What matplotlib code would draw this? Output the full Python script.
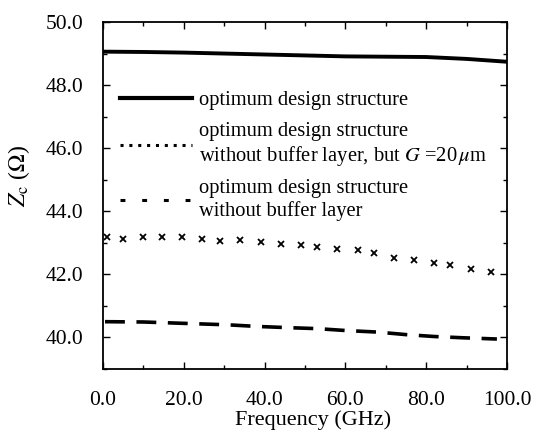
import matplotlib
matplotlib.use("Agg")
import matplotlib.pyplot as plt
from matplotlib.lines import Line2D
from matplotlib.ticker import MultipleLocator, FormatStrFormatter

plt.rcParams['font.family'] = ['Liberation Serif', 'DejaVu Serif']
plt.rcParams['mathtext.fontset'] = 'stix'

# optimum design structure
f_opt = [0, 10, 20, 30, 40, 50, 60, 70, 80, 90, 100]
z_opt = [49.06, 49.05, 49.03, 49.00, 48.97, 48.94, 48.91, 48.90, 48.89, 48.83, 48.74]

# without buffer layer, but G = 20 um
f_g20 = [1, 5, 10, 14.5, 19.5, 24.5, 29, 34, 39, 44, 49, 53, 58, 63, 67, 72, 77, 82, 86, 91, 96]
z_g20 = [43.18, 43.13, 43.18, 43.18, 43.18, 43.13, 43.06, 43.08, 43.03, 42.97, 42.92,
         42.87, 42.81, 42.78, 42.69, 42.53, 42.47, 42.36, 42.29, 42.18, 42.07]

# without buffer layer
f_nobuf = [0.5, 10, 17, 24, 31, 38, 46, 53, 60, 68, 75, 82, 89, 97.5]
z_nobuf = [40.50, 40.49, 40.46, 40.43, 40.40, 40.35, 40.31, 40.28, 40.22, 40.17,
           40.09, 40.03, 39.99, 39.95]

labels = ["optimum design structure",
          "optimum design structure\nwithout buffer layer, but $G$ =20$\\,\\mu$m",
          "optimum design structure\nwithout buffer layer"]

fig = plt.figure(figsize=(5.41, 4.38), dpi=100)
ax = fig.add_axes([103/541, 1 - 369/438, 404/541, 347/438])

ax.plot(f_opt, z_opt, color='black', lw=2.8)
ax.plot(f_g20, z_g20, ls='none', marker='x', ms=4.5, mew=1.3, color='black')
ax.plot(f_nobuf, z_nobuf, color='black', lw=2.6, ls=(0, (5.5, 3.2)))

handles = [Line2D([], [], color='black', lw=3),
           Line2D([], [], color='black', lw=2.2, ls=(0, (1.0, 1.9))),
           Line2D([], [], color='black', lw=2.2, ls=(0, (1.6, 5.5)))]
ax.legend(handles, labels, loc='upper left', bbox_to_anchor=(0.022, 0.825),
          frameon=False, fontsize=14.8, handlelength=3.5, handletextpad=0.35,
          labelspacing=0.55, borderaxespad=0)

ax.set_xlim(0, 100)
ax.set_ylim(39, 50)
ax.xaxis.set_major_locator(MultipleLocator(20))
ax.xaxis.set_minor_locator(MultipleLocator(10))
ax.yaxis.set_major_locator(MultipleLocator(2))
ax.yaxis.set_minor_locator(MultipleLocator(1))
ax.xaxis.set_major_formatter(FormatStrFormatter('%.1f'))
ax.yaxis.set_major_formatter(FormatStrFormatter('%.1f'))
ax.tick_params(which='both', direction='in', top=True, right=True, labelsize=15.5)
ax.tick_params(which='major', length=5, width=1)
ax.tick_params(which='minor', length=3, width=1)
ax.tick_params(axis='x', pad=16)
ax.tick_params(axis='y', pad=14)
for s in ax.spines.values():
    s.set_linewidth(1.3)

ax.set_xlabel("Frequency (GHz)", fontsize=16)
ax.set_ylabel("$Z_{\\mathrm{c}}$ ($\\Omega$)", fontsize=17)
ax.xaxis.set_label_coords(0.519, -0.118)
ax.yaxis.set_label_coords(-0.175, 0.555)

fig.savefig("out.png", dpi=100)
